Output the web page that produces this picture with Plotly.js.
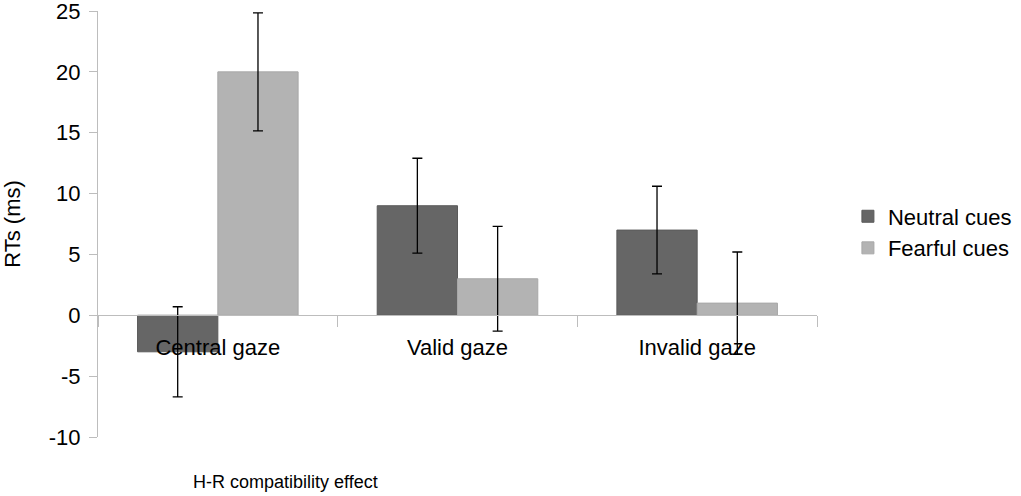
<!DOCTYPE html>
<html><head><meta charset="utf-8">
<script src="https://cdn.plot.ly/plotly-3.0.1.min.js"></script>
<style>html,body{margin:0;padding:0;background:#fff}#c{width:1021px;height:496px}</style>
</head><body><div id="c"></div>
<script>
const categories = ["Central gaze", "Valid gaze", "Invalid gaze"];
const neutralValues = [-3, 9, 7];
const neutralErrors = [3.7, 3.9, 3.6];
const fearfulValues = [20, 3, 1];
const fearfulErrors = [4.85, 4.3, 4.2];
const yTicks = [-10, -5, 0, 5, 10, 15, 20, 25];
const yTickLabels = ["-10", "-5", "0", "5", "10", "15", "20", "25"];

const font = "Liberation Sans, Arial, sans-serif";
const err = (a) => ({type: "data", array: a, visible: true, color: "#000", thickness: 1.3, width: 5});
const traces = [
  {type: "bar", name: "Neutral cues", x: categories, y: neutralValues, error_y: err(neutralErrors),
   marker: {color: "#666666", line: {color: "#5a5a5a", width: 1}}},
  {type: "bar", name: "Fearful cues", x: categories, y: fearfulValues, error_y: err(fearfulErrors),
   marker: {color: "#b3b3b3", line: {color: "#a8a8a8", width: 1}}}
];
const layout = {
  width: 1021, height: 496,
  margin: {l: 98, r: 204, t: 11, b: 59, autoexpand: false},
  paper_bgcolor: "#fff", plot_bgcolor: "#fff",
  font: {family: font, color: "#000"},
  barmode: "group", bargap: 0.33, bargroupgap: 0,
  showlegend: true,
  legend: {x: 1.043, y: 0.567, xanchor: "left", yanchor: "top", font: {size: 22, family: font},
           itemwidth: 30},
  xaxis: {type: "category", anchor: "free", position: (0 - (-10)) / 35, showline: true, linecolor: "#bdbdbd", linewidth: 1,
          ticks: "outside", tickson: "boundaries", ticklen: 11, tickcolor: "#bdbdbd", showgrid: false,
          tickfont: {size: 22, family: font}, zeroline: false, ticklabelstandoff: 12},
  yaxis: {range: [-10, 25], tickvals: yTicks, ticktext: yTickLabels, showline: true, linecolor: "#bdbdbd", linewidth: 1,
          ticks: "outside", ticklen: 8, tickcolor: "#bdbdbd", showgrid: false, zeroline: false,
          ticklabeloverflow: "allow", ticklabelstandoff: 4,
          tickfont: {size: 22, family: font},
          title: {text: "RTs (ms)", font: {size: 22, family: font}, standoff: 22}},
  annotations: [{text: "H-R compatibility effect", xref: "paper", yref: "paper", x: 0.261, y: -0.105,
                 xanchor: "center", yanchor: "middle", showarrow: false, font: {size: 18, family: font}}]
};
Plotly.newPlot("c", traces, layout, {displayModeBar: false, staticPlot: true});
</script></body></html>
